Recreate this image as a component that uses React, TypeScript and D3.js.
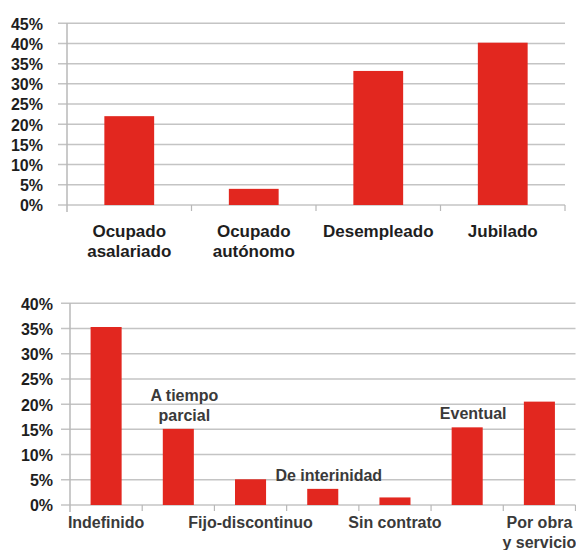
import * as d3 from "d3";
import { useEffect, useRef } from "react";

// situación laboral
const topCategories = ["Ocupado\nasalariado", "Ocupado\nautónomo", "Desempleado", "Jubilado"];
const topValues = [22, 4, 33.2, 40.2];
const topTicks = [0, 5, 10, 15, 20, 25, 30, 35, 40, 45];

// tipo de contrato
const bottomCategories = [
  "Indefinido",
  "A tiempo\nparcial",
  "Fijo-discontinuo",
  "De interinidad",
  "Sin contrato",
  "Eventual",
  "Por obra\ny servicio",
];
const bottomValues = [35.3, 15.1, 5.1, 3.2, 1.5, 15.4, 20.5];
const bottomTicks = [0, 5, 10, 15, 20, 25, 30, 35, 40];

const RED = "#e2271f";
const GRID = "#c4c4c4";
const FONT = "'Liberation Sans', Arial, sans-serif";

type ChartProps = {
  categories: string[];
  values: number[];
  ticks: number[];
  x0: number;
  x1: number;
  y0: number;
  y1: number;
  labelRight: number;
  barRatio: number;
  labelSize: number;
  labelColor: string;
  alternate: boolean;
};

function drawChart(
  svg: d3.Selection<SVGSVGElement, unknown, null, undefined>,
  p: ChartProps
) {
  const max = d3.max(p.ticks) as number;
  const x = d3.scaleBand<string>().domain(p.categories).range([p.x0, p.x1]).padding(0);
  const y = d3.scaleLinear().domain([0, max]).range([p.y0, p.y1]);

  const g = svg.append("g");

  // grid lines + left ticks
  g.selectAll("line.grid")
    .data(p.ticks)
    .join("line")
    .attr("class", "grid")
    .attr("x1", p.x0 - 9)
    .attr("x2", p.x1)
    .attr("y1", (d) => y(d))
    .attr("y2", (d) => y(d))
    .attr("stroke", GRID)
    .attr("stroke-width", 1.5);

  // y axis line
  g.append("line")
    .attr("x1", p.x0)
    .attr("x2", p.x0)
    .attr("y1", y(max))
    .attr("y2", y(0) + 7)
    .attr("stroke", "#b8b8b8")
    .attr("stroke-width", 1.5);

  // category boundary ticks
  g.selectAll("line.xt")
    .data(p.categories)
    .join("line")
    .attr("class", "xt")
    .attr("x1", (d) => (x(d) as number) + x.bandwidth())
    .attr("x2", (d) => (x(d) as number) + x.bandwidth())
    .attr("y1", y(0))
    .attr("y2", y(0) + 6)
    .attr("stroke", "#b8b8b8")
    .attr("stroke-width", 1.2);

  g.selectAll("text.yt")
    .data(p.ticks)
    .join("text")
    .attr("class", "yt")
    .attr("x", p.labelRight)
    .attr("y", (d) => y(d))
    .attr("dy", "0.4em")
    .attr("text-anchor", "end")
    .attr("font-family", FONT)
    .attr("font-weight", "bold")
    .attr("font-size", 16)
    .attr("fill", "#1e1e1e")
    .text((d) => `${d}%`);

  const bw = x.bandwidth() * p.barRatio;
  const cx = (c: string) => (x(c) as number) + x.bandwidth() / 2;

  g.selectAll("rect.bar")
    .data(p.categories)
    .join("rect")
    .attr("class", "bar")
    .attr("x", (d) => cx(d) - bw / 2)
    .attr("width", bw)
    .attr("y", (_d, i) => y(p.values[i]))
    .attr("height", (_d, i) => y(0) - y(p.values[i]))
    .attr("fill", RED);

  p.categories.forEach((c, i) => {
    const lines = c.split("\n");
    const above = p.alternate && i % 2 === 1;
    const t = g
      .append("text")
      .attr("text-anchor", "middle")
      .attr("font-family", FONT)
      .attr("font-weight", "bold")
      .attr("font-size", p.labelSize)
      .attr("fill", p.labelColor);
    const lh = 20;
    const base = above
      ? y(p.values[i]) - 8 - (lines.length - 1) * lh
      : y(0) + (p.alternate ? 23 : 32);
    const xc = above ? cx(c) + 6 : cx(c);
    lines.forEach((l, j) => {
      t.append("tspan").attr("x", xc).attr("y", base + j * lh).text(l);
    });
  });
}

export default function App() {
  const ref = useRef<SVGSVGElement | null>(null);

  useEffect(() => {
    if (!ref.current) return;
    const svg = d3.select(ref.current);
    svg.selectAll("*").remove();

    drawChart(svg, {
      categories: topCategories,
      values: topValues,
      ticks: topTicks,
      x0: 67,
      x1: 565,
      y0: 205,
      y1: 23.3,
      labelRight: 43,
      barRatio: 0.4,
      labelSize: 17,
      labelColor: "#1e1e1e",
      alternate: false,
    });

    drawChart(svg, {
      categories: bottomCategories,
      values: bottomValues,
      ticks: bottomTicks,
      x0: 70,
      x1: 575.5,
      y0: 505,
      y1: 303.3,
      labelRight: 53,
      barRatio: 0.43,
      labelSize: 16,
      labelColor: "#3a3a3a",
      alternate: true,
    });
  }, []);

  return (
    <svg
      ref={ref}
      width={576}
      height={550}
      style={{ position: "absolute", left: 0, top: 0, background: "#fff" }}
    />
  );
}
